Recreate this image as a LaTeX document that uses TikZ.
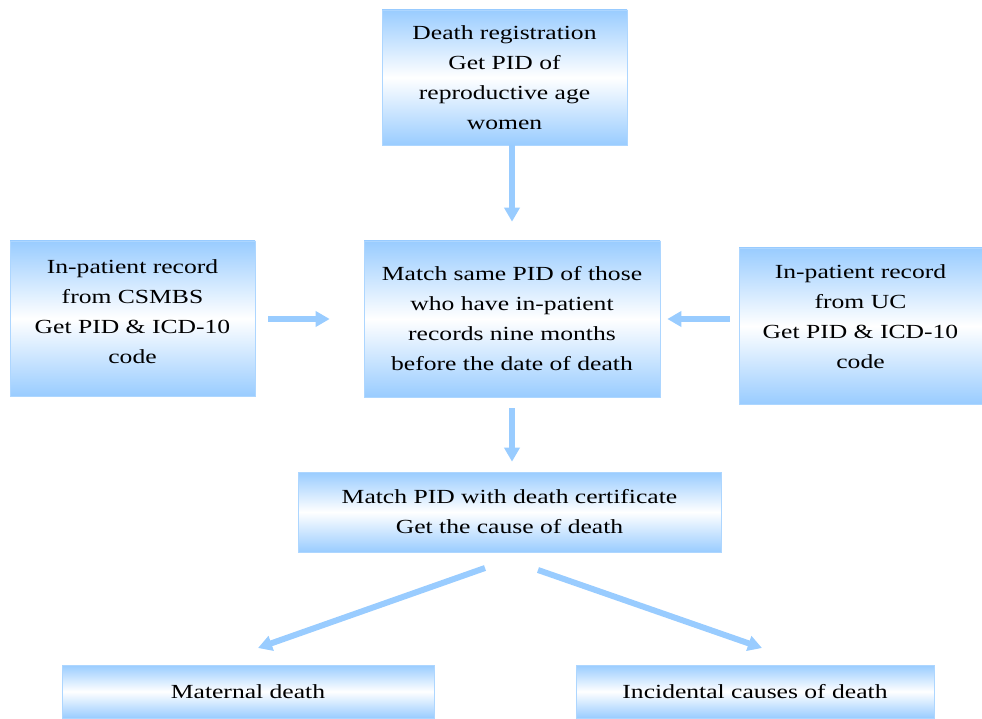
\documentclass[tikz,border=0pt]{standalone}
\usepackage{fontspec}
\setmainfont{Liberation Serif}[FakeStretch=1.28]
\usetikzlibrary{arrows.meta}
\definecolor{boxblue}{RGB}{153,204,255}
\tikzset{
  stepbox/.style={draw=boxblue!80, line width=0.6pt, top color=boxblue, bottom color=boxblue,
    middle color=white, align=center, inner sep=0pt,
    font=\fontsize{20pt}{30pt}\selectfont},
  flow/.style={draw=boxblue, line width=6pt, -{Triangle[width=15pt,length=14pt]}}
}
\begin{document}
\begin{tikzpicture}[x=1pt,y=-1pt]
\useasboundingbox (0,0) rectangle (982,719);
 %boxes
 \node[stepbox, minimum width=245, minimum height=135] (death) at (504.5,77.5)
   {Death registration\\Get PID of\\reproductive age\\women};
 \node[stepbox, minimum width=245, minimum height=155, text depth=14pt] (csmbs) at (132.5,318.5)
   {In-patient record\\from CSMBS\\Get PID \& ICD-10\\code};
 \node[stepbox, minimum width=296, minimum height=156] (inmatch) at (512,319)
   {Match same PID of those\\who have in-patient\\records nine months\\before the date of death};
 \node[stepbox, minimum width=243, minimum height=156, text depth=18pt] (uc) at (860.5,326)
   {In-patient record\\from UC\\Get PID \& ICD-10\\code};
 \node[stepbox, minimum width=423, minimum height=80] (cert) at (509.5,512)
   {Match PID with death certificate\\Get the cause of death};
 \node[stepbox, minimum width=372, minimum height=53] (maternal) at (248,691.5)
   {Maternal death};
 \node[stepbox, minimum width=358, minimum height=53] (incidental) at (755,691.5)
   {Incidental causes of death};
 %arrows
 \draw[flow, shorten >=19pt] (death.south -| inmatch.north) -- (inmatch.north);
 \draw[flow, shorten <=13pt, shorten >=34pt] (csmbs.east |- inmatch.west) -- (inmatch.west);
 \draw[flow, shorten <=9pt, shorten >=7pt] (uc.west |- inmatch.east) -- (inmatch.east);
 \draw[flow, shorten <=11pt, shorten >=10pt] (inmatch.south) -- (inmatch.south |- cert.north);
 \coordinate (lsplit) at (485,568);
 \coordinate (rsplit) at (538,570);
 \coordinate (lend) at (258,648);
 \coordinate (rend) at (762,648);
 \draw[flow] (lsplit) -- (lend);
 \draw[flow] (rsplit) -- (rend);
\end{tikzpicture}
\end{document}
